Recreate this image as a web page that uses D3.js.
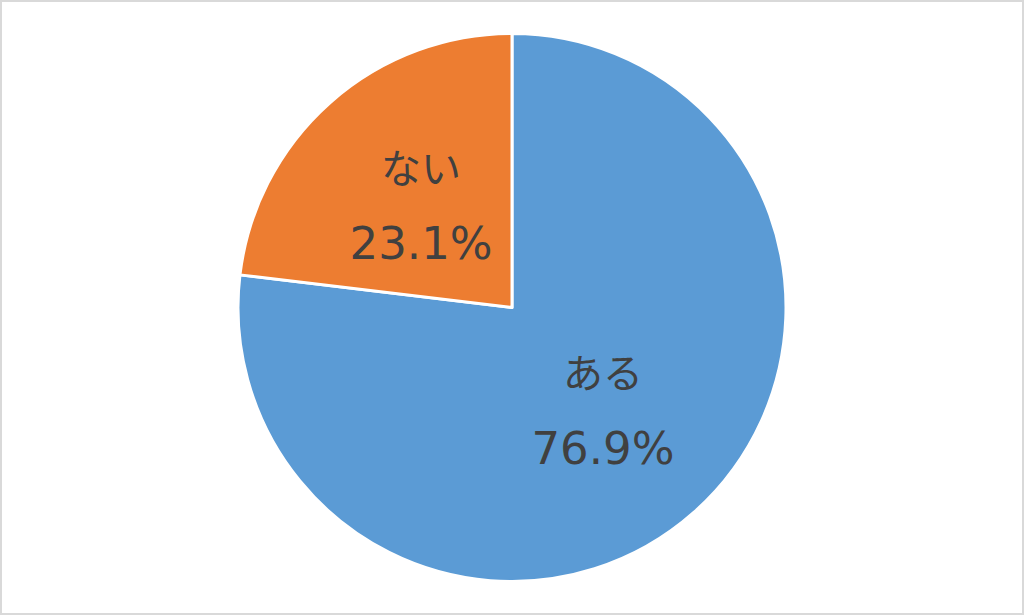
<!DOCTYPE html>
<html><head><meta charset="utf-8">
<script src="https://cdn.jsdelivr.net/npm/d3@7"></script>
<style>html,body{margin:0;padding:0;background:#fff;}svg{display:block;}</style>
</head><body>
<svg id="chart" width="1024" height="615"></svg>
<script>
const categories = ["ある", "ない"];
const values = [76.9, 23.1];
const valueLabels = ["76.9%", "23.1%"];
const colors = ["#5B9BD5", "#ED7D31"];

const svg = d3.select("#chart");
const W = 1024, H = 615;
svg.append("rect").attr("x", 1).attr("y", 1).attr("width", W - 2).attr("height", H - 2)
  .attr("fill", "#fff").attr("stroke", "#d9d9d9").attr("stroke-width", 2);

const cx = 512, cy = 307.5, r = 274;
const data = categories.map((c, i) => ({ name: c, value: values[i], label: valueLabels[i], color: colors[i] }));
const pie = d3.pie().sort(null).value(d => d.value);
const arc = d3.arc().innerRadius(0).outerRadius(r);
const labelArc = d3.arc().innerRadius(r * 0.5).outerRadius(r * 0.5);
const g = svg.append("g").attr("transform", `translate(${cx},${cy})`);
const arcs = pie(data);
g.selectAll("path").data(arcs).join("path")
  .attr("d", arc).attr("fill", d => d.data.color)
  .attr("stroke", "#fff").attr("stroke-width", 3).attr("stroke-linejoin", "round");

const lab = g.selectAll("g.lab").data(arcs).join("g").attr("class", "lab")
  .attr("transform", d => `translate(${labelArc.centroid(d)})`);
const font = "'Noto Sans CJK JP', 'Noto Sans', sans-serif";
lab.append("text").attr("text-anchor", "middle").attr("dominant-baseline", "central")
  .attr("y", -39).attr("font-family", font).attr("font-size", 40).attr("fill", "#404040")
  .text(d => d.data.name);
lab.append("text").attr("text-anchor", "middle")
  .attr("y", 54).attr("font-family", "'DejaVu Sans', sans-serif").attr("font-size", 45).attr("fill", "#404040")
  .text(d => d.data.label);
</script>
</body></html>
